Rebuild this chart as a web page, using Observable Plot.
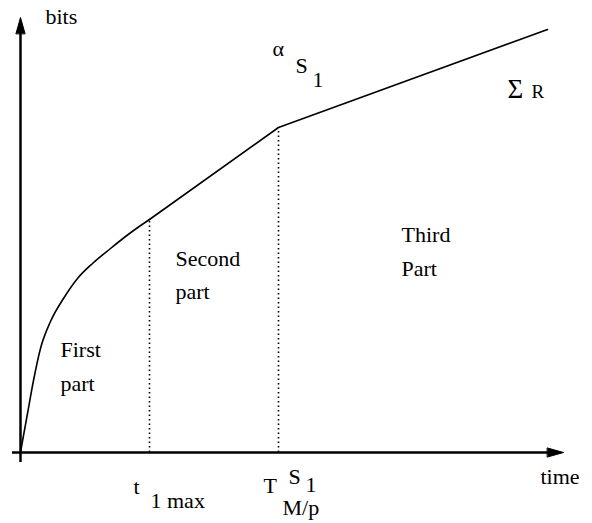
<!DOCTYPE html>
<html>
<head>
<meta charset="utf-8">
<script src="https://cdn.jsdelivr.net/npm/d3@7"></script>
<script src="https://cdn.jsdelivr.net/npm/@observablehq/plot@0.6"></script>
<style>
  body { margin: 0; background: #fff; font-family: "Liberation Serif", "DejaVu Serif", serif; }
  svg { overflow: visible; }
</style>
</head>
<body>
<div id="chart"></div>
<script>
// Cumulative bits over time: a concave first part, then two linear parts.
const firstPartTime = [0, 3, 7, 13, 20, 30, 43, 57, 72, 90, 109, 129];
const firstPartBits = [0, 17, 39, 72, 104, 131, 154, 174, 189, 204, 219, 233];

const linearTime = [129, 258, 527];
const linearBits = [233, 325, 423];

// Phase boundaries: t_1max and T^{S_1}_{M/p}
const breakTimes = [129, 258];
const breakBits = [233, 325];

// Axis extents (time, bits)
const timeMax = 543;
const bitsMax = 435;

// Annotation text with its anchor in (time, bits)
const labelText = ["bits", "α", "S", "1", "Second", "part", "First", "part", "Third", "Part", "time", "t", "1 max", "T", "S", "1", "M/p"];
const labelTime = [25, 252, 275, 292, 155, 155, 40, 40, 381, 381, 520, 113, 130, 243, 268, 285, 262];
const labelBits = [429, 397, 380, 366, 187, 154, 96, 62, 211, 177, -31, -41, -55, -40, -31, -39, -62];
const sumText = ["Σ"];
const sumTime = [487];
const sumBits = [355];
const smallText = ["R"];
const smallTime = [511];
const smallBits = [355];

const firstPart = firstPartTime.map((t, i) => ({t, b: firstPartBits[i]}));
const linearPart = linearTime.map((t, i) => ({t, b: linearBits[i]}));
const breaks = breakTimes.map((t, i) => ({t, b: breakBits[i]}));
const labels = labelText.map((s, i) => ({s, t: labelTime[i], b: labelBits[i]}));
const sumLabels = sumText.map((s, i) => ({s, t: sumTime[i], b: sumBits[i]}));
const smallLabels = smallText.map((s, i) => ({s, t: smallTime[i], b: smallBits[i]}));

// Filled triangular arrowhead for the axes
const head = {
  draw(context, l, r) {
    context.moveTo(-r, 0);
    context.lineTo(0, -l);
    context.lineTo(r, 0);
    context.closePath();
  }
};

const font = "Liberation Serif";

const chart = Plot.plot({
  width: 592,
  height: 523,
  marginLeft: 20,
  marginRight: 29,
  marginTop: 17,
  marginBottom: 71,
  x: {domain: [0, timeMax], axis: null},
  y: {domain: [0, bitsMax], axis: null},
  style: {background: "#fff", color: "#000"},
  marks: [
    Plot.ruleX(breaks, {x: "t", y1: 0, y2: "b", stroke: "#000", strokeWidth: 1.6, strokeDasharray: "1.5 3"}),
    Plot.line(firstPart, {x: "t", y: "b", curve: "monotone-x", stroke: "#000", strokeWidth: 1.6}),
    Plot.line(linearPart, {x: "t", y: "b", stroke: "#000", strokeWidth: 1.6}),
    Plot.ruleY([0], {x1: -8, x2: timeMax - 12, stroke: "#000", strokeWidth: 2.5}),
    Plot.ruleX([0], {y1: -10, y2: bitsMax - 12, stroke: "#000", strokeWidth: 2.5}),
    Plot.vector([{t: timeMax, b: 0, a: 90}, {t: 0, b: bitsMax, a: 0}], {
      x: "t", y: "b", rotate: "a", length: 16, r: 4.5, anchor: "end",
      shape: head, fill: "#000", stroke: "#000", strokeWidth: 1
    }),
    Plot.text(labels, {x: "t", y: "b", text: "s", textAnchor: "start", lineAnchor: "bottom", fontSize: 22, fill: "#000"}),
    Plot.text(sumLabels, {x: "t", y: "b", text: "s", textAnchor: "start", lineAnchor: "bottom", fontSize: 27, fill: "#000"}),
    Plot.text(smallLabels, {x: "t", y: "b", text: "s", textAnchor: "start", lineAnchor: "bottom", fontSize: 19, fill: "#000"})
  ]
});

// Serif face for every label
chart.style.fontFamily = font;
d3.select(chart).selectAll("g[aria-label=text], text")
  .attr("font-family", font)
  .style("font-family", font);

document.getElementById("chart").append(chart);
</script>
</body>
</html>
